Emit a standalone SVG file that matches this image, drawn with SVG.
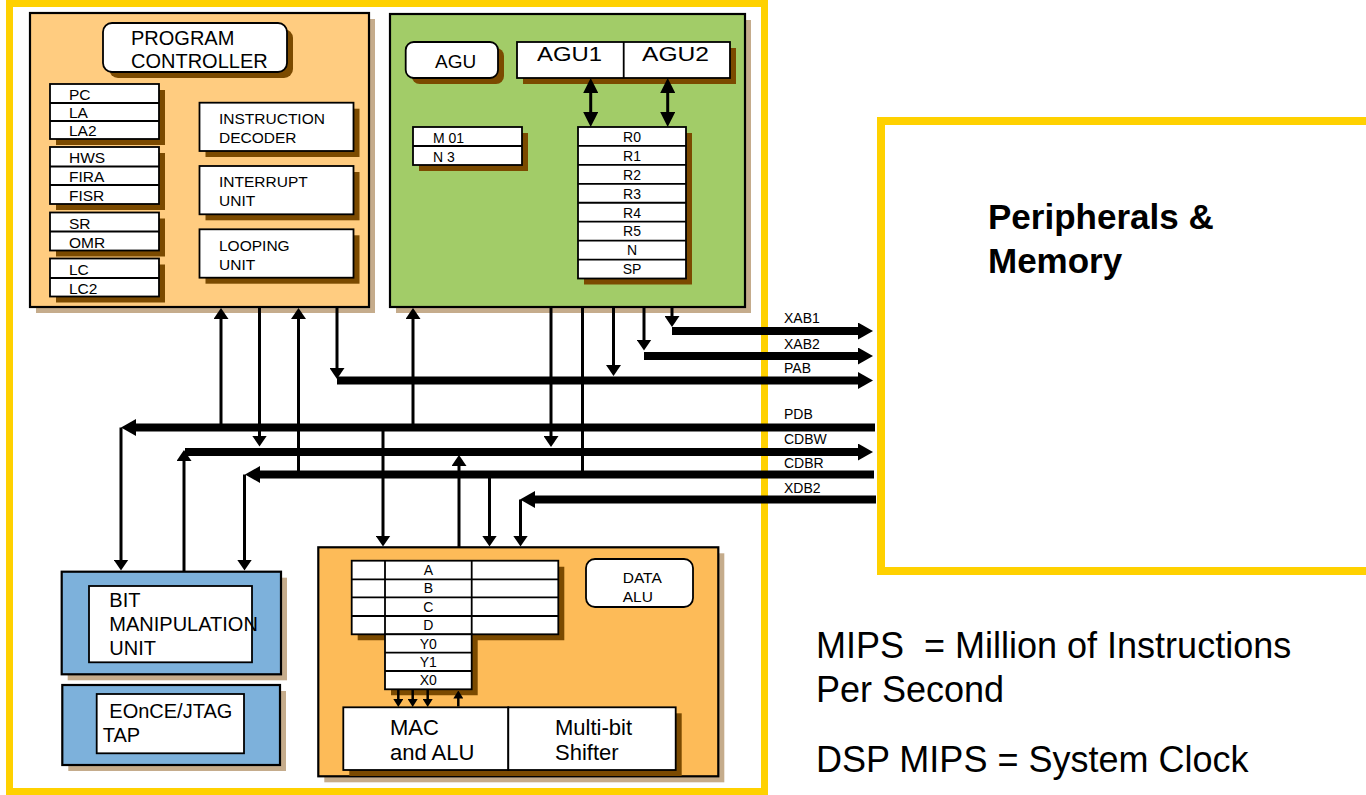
<svg xmlns="http://www.w3.org/2000/svg" width="1366" height="795" viewBox="0 0 1366 795">
<defs>
<style>
text{font-family:"Liberation Sans",Arial,sans-serif;fill:#000}
.frame{fill:#fff;stroke:#FFD100}
.box{stroke:#000;stroke-width:2.2}
.cell{fill:#fff;stroke:#000;stroke-width:1.8}
.sh{fill:#8B5A1A;opacity:.5}
.ish{fill:#7B4A00}
.pc{fill:#FFCC80}
.agu{fill:#A2CC68}
.alu{fill:#FDBB58}
.blu{fill:#7DB1DB}
.t15{font-size:15.5px}
.t14{font-size:14px}
.t20{font-size:20px}
.t22{font-size:22px}
.mid{text-anchor:middle}
.bus{fill:none;stroke:#000;stroke-width:8}
.wire{fill:none;stroke:#000;stroke-width:3}
.wire-s{fill:none;stroke:#000;stroke-width:2.5}
.big{font-size:36px}
</style>
<marker id="ah" viewBox="0 0 11 15" refX="5" refY="7.5" markerWidth="11" markerHeight="15" markerUnits="userSpaceOnUse" orient="auto-start-reverse"><path d="M0,0 L11,7.5 L0,15 z"/></marker>
<marker id="ahd" viewBox="0 0 15 15" refX="7" refY="7.5" markerWidth="15" markerHeight="15" markerUnits="userSpaceOnUse" orient="auto-start-reverse"><path d="M0,0 L15,7.5 L0,15 z"/></marker>
<marker id="ahs" viewBox="0 0 8 10" refX="4" refY="5" markerWidth="8" markerHeight="10" markerUnits="userSpaceOnUse" orient="auto-start-reverse"><path d="M0,0 L8,5 L0,10 z"/></marker>
<marker id="bh" viewBox="0 0 15 17" refX="7" refY="8.5" markerWidth="15" markerHeight="17" markerUnits="userSpaceOnUse" orient="auto-start-reverse"><path d="M0,0 L15,8.5 L0,17 z"/></marker>
</defs>

<rect width="1366" height="795" fill="#fff"/>

<!-- core outline -->
<rect id="core-frame" class="frame" x="9.5" y="3.5" width="755" height="788" stroke-width="7"/>

<!-- peripherals & memory block -->
<g id="peripherals">
<rect class="frame" x="881" y="121" width="520" height="450" stroke-width="8"/>
<text x="988" y="229" font-size="35px" font-weight="bold">Peripherals &amp;</text>
<text x="988" y="273" font-size="35px" font-weight="bold">Memory</text>
</g>

<!-- program controller -->
<g id="program-controller">
<rect class="sh" x="36" y="19" width="339" height="294"/>
<rect class="box pc" x="30" y="13" width="339" height="294"/>
<rect class="ish" x="109" y="29" width="184" height="49" rx="9"/>
<rect class="cell" x="103" y="23" width="184" height="49" rx="9"/>
<text x="131" y="45" font-size="20px">PROGRAM</text>
<text x="131" y="68" font-size="20px">CONTROLLER</text>
<!-- register stacks -->
<rect class="ish" x="56" y="90" width="109" height="55"/>
<rect class="cell" x="50" y="84" width="109" height="55"/>
<path d="M50,103H159M50,121H159" stroke="#000" stroke-width="1.8"/>
<text class="t15" x="69" y="100">PC</text>
<text class="t15" x="69" y="118">LA</text>
<text class="t15" x="69" y="136">LA2</text>
<rect class="ish" x="56" y="153" width="109" height="57"/>
<rect class="cell" x="50" y="147" width="109" height="57"/>
<path d="M50,166.5H159M50,185H159" stroke="#000" stroke-width="1.8"/>
<text class="t15" x="69" y="162.5">HWS</text>
<text class="t15" x="69" y="181.5">FIRA</text>
<text class="t15" x="69" y="200.5">FISR</text>
<rect class="ish" x="56" y="218.5" width="109" height="38"/>
<rect class="cell" x="50" y="212.5" width="109" height="38"/>
<path d="M50,231.5H159" stroke="#000" stroke-width="1.8"/>
<text class="t15" x="69" y="229">SR</text>
<text class="t15" x="69" y="248">OMR</text>
<rect class="ish" x="56" y="264.5" width="109" height="38"/>
<rect class="cell" x="50" y="258.5" width="109" height="38"/>
<path d="M50,278H159" stroke="#000" stroke-width="1.8"/>
<text class="t15" x="69" y="275">LC</text>
<text class="t15" x="69" y="293.5">LC2</text>
<!-- functional units -->
<rect class="ish" x="205.5" y="108.7" width="154" height="48.3"/>
<rect class="cell" x="199.5" y="102.7" width="154" height="48.3"/>
<text class="t15" x="219" y="124">INSTRUCTION</text>
<text class="t15" x="219" y="143">DECODER</text>
<rect class="ish" x="205.5" y="172" width="154" height="48.3"/>
<rect class="cell" x="199.5" y="166" width="154" height="48.3"/>
<text class="t15" x="219" y="187">INTERRUPT</text>
<text class="t15" x="219" y="206">UNIT</text>
<rect class="ish" x="205.5" y="235.3" width="154" height="48.4"/>
<rect class="cell" x="199.5" y="229.3" width="154" height="48.4"/>
<text class="t15" x="219" y="251">LOOPING</text>
<text class="t15" x="219" y="269.5">UNIT</text>
</g>

<!-- address generation unit -->
<g id="agu">
<rect class="sh" x="396" y="20" width="355" height="293"/>
<rect class="box agu" x="390" y="14" width="355" height="293"/>
<rect class="ish" x="411.7" y="48" width="92.3" height="36" rx="8"/>
<rect class="cell" x="405.7" y="42" width="92.3" height="36" rx="8"/>
<text x="435" y="68" font-size="19px">AGU</text>
<rect class="ish" x="523" y="48" width="213" height="36"/>
<rect class="cell" x="517" y="42" width="213" height="36"/>
<path d="M623.7,42V78" stroke="#000" stroke-width="1.8"/>
<text x="537" y="61" font-size="20px" textLength="65" lengthAdjust="spacingAndGlyphs">AGU1</text>
<text x="642" y="61" font-size="20px" textLength="67" lengthAdjust="spacingAndGlyphs">AGU2</text>
<rect class="ish" x="419" y="133" width="109" height="38"/>
<rect class="cell" x="413" y="127" width="109" height="38"/>
<path d="M413,146H522" stroke="#000" stroke-width="1.8"/>
<text class="t14" x="433" y="142.5">M 01</text>
<text class="t14" x="433" y="161.5">N 3</text>
<rect class="ish" x="584" y="133" width="108" height="151.5"/>
<rect class="cell" x="578" y="127" width="108" height="151.5"/>
<path d="M578,145.94H686M578,164.88H686M578,183.81H686M578,202.75H686M578,221.69H686M578,240.63H686M578,259.56H686" stroke="#000" stroke-width="1.8"/>
<text class="t14 mid" x="632" y="141.8">R0</text>
<text class="t14 mid" x="632" y="160.7">R1</text>
<text class="t14 mid" x="632" y="179.6">R2</text>
<text class="t14 mid" x="632" y="198.6">R3</text>
<text class="t14 mid" x="632" y="217.5">R4</text>
<text class="t14 mid" x="632" y="236.4">R5</text>
<text class="t14 mid" x="632" y="255.4">N</text>
<text class="t14 mid" x="632" y="274.2">SP</text>
</g>

<!-- bit manipulation unit -->
<g id="bit-manipulation">
<rect class="sh" x="67.7" y="577.7" width="219.3" height="102.6"/>
<rect class="box blu" x="61.7" y="571.7" width="219.3" height="102.6"/>
<rect class="cell" x="89" y="586" width="163" height="76.3" stroke-width="2.2"/>
<text class="t20" x="109.3" y="606.7">BIT</text>
<text class="t20" x="109.3" y="631">MANIPULATION</text>
<text class="t20" x="109.3" y="655">UNIT</text>
</g>

<!-- debug port -->
<g id="eonce-jtag">
<rect class="sh" x="68.3" y="691" width="217.7" height="80"/>
<rect class="box blu" x="62.3" y="685" width="217.7" height="80"/>
<rect class="cell" x="96.7" y="694" width="147.3" height="59.3" stroke-width="2.2"/>
<text class="t20" x="109.3" y="718.3">EOnCE/JTAG</text>
<text class="t20" x="102.7" y="742.3">TAP</text>
</g>

<!-- data ALU -->
<g id="data-alu">
<rect class="sh" x="324.3" y="553.3" width="400" height="229"/>
<rect class="box alu" x="318.3" y="547.3" width="400" height="229"/>
<path class="ish" d="M357.7,566.7H564.3V640.3H477.7V695.3H391V640.3H357.7z"/>
<rect class="cell" x="351.7" y="560.7" width="206.6" height="73.6"/>
<rect class="cell" x="385" y="634.3" width="86.7" height="55"/>
<path d="M351.7,579.3H558.3M351.7,597.3H558.3M351.7,616H558.3M385,652.7H471.7M385,671H471.7M385,560.7V634.3M471.7,560.7V634.3" stroke="#000" stroke-width="1.8"/>
<text class="t14 mid" x="428.3" y="575">A</text>
<text class="t14 mid" x="428.3" y="593.3">B</text>
<text class="t14 mid" x="428.3" y="611.7">C</text>
<text class="t14 mid" x="428.3" y="630.2">D</text>
<text class="t14 mid" x="428.3" y="648.5">Y0</text>
<text class="t14 mid" x="428.3" y="666.9">Y1</text>
<text class="t14 mid" x="428.3" y="685.2">X0</text>
<rect class="cell" x="586" y="559" width="107" height="48" rx="9"/>
<text class="t15" x="622.7" y="582.7">DATA</text>
<text class="t15" x="622.7" y="602.3">ALU</text>
<rect class="ish" x="349.3" y="713.3" width="332.4" height="62.7"/>
<rect class="cell" x="343.3" y="707.3" width="165" height="62.7" stroke-width="2.2"/>
<rect class="cell" x="508.3" y="707.3" width="167.4" height="62.7" stroke-width="2.2"/>
<text class="t22" x="390" y="735">MAC</text>
<text class="t22" x="390" y="760">and ALU</text>
<text class="t22" x="555" y="735">Multi-bit</text>
<text class="t22" x="555" y="760">Shifter</text>
</g>

<!-- buses and signal wires -->
<g id="connectors">
<path class="bus" marker-end="url(#bh)" d="M672,331H865"/>
<path class="bus" marker-end="url(#bh)" d="M644,356H865"/>
<path class="bus" marker-end="url(#bh)" d="M337,380.5H865"/>
<path class="bus" marker-end="url(#bh)" d="M875,427.5H129"/>
<path class="bus" marker-end="url(#bh)" d="M185,452H865"/>
<path class="bus" marker-end="url(#bh)" d="M874,474.5H253"/>
<path class="bus" marker-end="url(#bh)" d="M876,499.5H528"/>

<path class="wire" marker-end="url(#ah)" d="M221,431V314"/>
<path class="wire" marker-end="url(#ah)" d="M259.5,308V440.5"/>
<path class="wire" marker-end="url(#ah)" d="M298.5,478V314"/>
<path class="wire" marker-end="url(#ah)" d="M337,308V373"/>
<path class="wire" marker-end="url(#ah)" d="M413,431V314"/>
<path class="wire" marker-end="url(#ah)" d="M383,431V540.5"/>
<path class="wire" marker-end="url(#ah)" d="M459,547V461"/>
<path class="wire" marker-end="url(#ah)" d="M489.5,478V540.5"/>
<path class="wire" marker-end="url(#ah)" d="M520.5,499.5V540.5"/>
<path class="wire" marker-end="url(#ah)" d="M551,308V441"/>
<path class="wire" d="M582.5,308V472"/>
<path class="wire" marker-end="url(#ah)" d="M613.5,308V370"/>
<path class="wire" marker-end="url(#ah)" d="M644,308V344.5"/>
<path class="wire" marker-end="url(#ah)" d="M672,308V321"/>
<path class="wire" marker-end="url(#ah)" d="M121,427.5V564.5"/>
<path class="wire" marker-end="url(#ah)" d="M184,571V456"/>
<path class="wire" marker-end="url(#ah)" d="M244.5,474.5V564.5"/>

<path class="wire" marker-start="url(#ahd)" marker-end="url(#ahd)" d="M590.7,86V119"/>
<path class="wire" marker-start="url(#ahd)" marker-end="url(#ahd)" d="M667.7,86V119"/>

<path class="wire-s" marker-end="url(#ahs)" d="M398.3,690V703"/>
<path class="wire-s" marker-end="url(#ahs)" d="M412.7,690V703"/>
<path class="wire-s" marker-end="url(#ahs)" d="M427.7,690V703"/>
<path class="wire-s" marker-end="url(#ahs)" d="M458.3,706.5V694.5"/>
</g>

<!-- bus labels -->
<g id="bus-labels" class="t14">
<text x="784" y="322.7">XAB1</text>
<text x="784" y="349">XAB2</text>
<text x="784" y="372.7">PAB</text>
<text x="784" y="419">PDB</text>
<text x="784" y="444">CDBW</text>
<text x="784" y="468">CDBR</text>
<text x="784" y="492.7">XDB2</text>
</g>

<!-- notes -->
<g id="notes" class="big">
<text x="816" y="658" xml:space="preserve">MIPS  = Million of Instructions</text>
<text x="816" y="701.7">Per Second</text>
<text x="816" y="771.7">DSP MIPS = System Clock</text>
</g>
</svg>
